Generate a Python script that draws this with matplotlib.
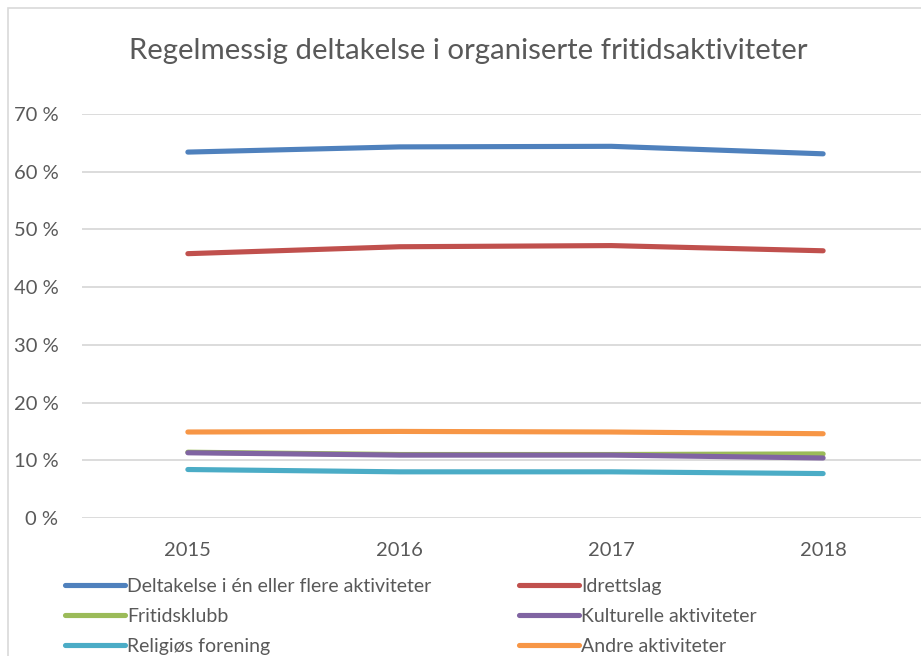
import matplotlib
matplotlib.use("Agg")
import matplotlib.pyplot as plt
from matplotlib.patches import Rectangle
from matplotlib.ticker import FuncFormatter

plt.rcParams['font.family'] = ['Lato', 'DejaVu Sans']

# data (share in percent)
years = ["2015", "2016", "2017", "2018"]
deltakelse = [63.4, 64.3, 64.4, 63.1]
idrettslag = [45.8, 47.0, 47.2, 46.3]
fritidsklubb = [11.4, 11.0, 11.0, 11.1]
kulturelle = [11.3, 10.9, 10.9, 10.4]
religios = [8.4, 8.0, 8.0, 7.7]
andre = [14.9, 15.0, 14.9, 14.6]

labels = ["Deltakelse i én eller flere aktiviteter", "Idrettslag", "Fritidsklubb",
          "Kulturelle aktiviteter", "Religiøs forening", "Andre aktiviteter"]
colors = ["#4F81BD", "#C0504D", "#9BBB59", "#8064A2", "#4BACC6", "#F79646"]
series = [deltakelse, idrettslag, fritidsklubb, kulturelle, religios, andre]

W, H = 921, 656
fig = plt.figure(figsize=(W / 100, H / 100), dpi=100)
fig.patch.set_facecolor("white")

# chart area border (cropped on right and bottom)
fig.patches.append(Rectangle((8 / W, -0.1), 1.2, 1 - 8 / H + 0.1, transform=fig.transFigure,
                             fill=False, edgecolor="#D9D9D9", linewidth=1.2))

ax = fig.add_axes([82 / W, 1 - 518 / H, (929 - 82) / W, (518 - 114) / H])
ax.set_facecolor("none")
x = list(range(len(years)))
handles = []
for vals, col, lab in zip(series, colors, labels):
    h, = ax.plot(x, vals, color=col, linewidth=3.7, solid_capstyle="round",
                 solid_joinstyle="round", label=lab)
    handles.append(h)

ax.set_xlim(-0.5, len(years) - 0.5)
ax.set_ylim(0, 70)
ax.set_yticks(range(0, 71, 10))
ax.yaxis.set_major_formatter(FuncFormatter(lambda v, p: "%d %%" % v))
ax.set_xticks(x)
ax.set_xticklabels(years)
ax.grid(axis="y", color="#D9D9D9", linewidth=1.3)
ax.set_axisbelow(True)
for s in ax.spines.values():
    s.set_visible(False)
ax.tick_params(axis="both", length=0, colors="#595959", labelsize=14.5)
ax.tick_params(axis="y", pad=17)
ax.tick_params(axis="x", pad=17)

fig.text(468 / W, 1 - 51 / H, "Regelmessig deltakelse i organiserte fritidsaktiviteter",
         ha="center", va="center", fontsize=21.2, color="#595959")

# legend filled column-wise, so reorder to get row order of the original
order = [0, 2, 4, 1, 3, 5]
leg = fig.legend([handles[i] for i in order], [labels[i] for i in order], ncol=2,
                 loc="upper left", bbox_to_anchor=(65 / W, 1 - 578 / H), frameon=False,
                 fontsize=14, handlelength=3.1, handletextpad=0.1, columnspacing=4.5,
                 labelspacing=0.66, labelcolor="#595959", borderaxespad=0, borderpad=0)

fig.savefig("out.png", dpi=100)
